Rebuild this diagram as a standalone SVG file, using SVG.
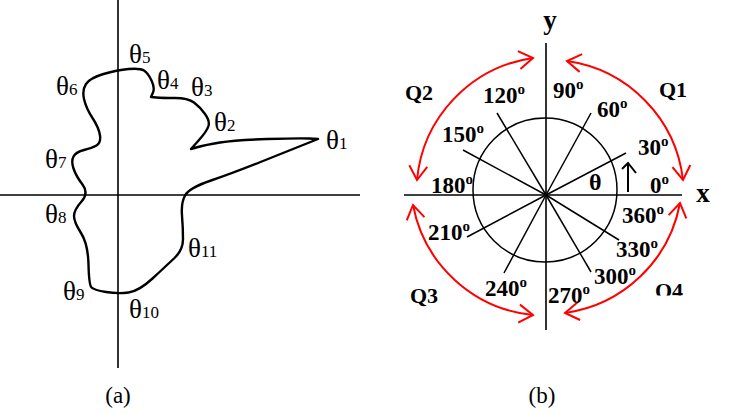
<svg xmlns="http://www.w3.org/2000/svg" width="737" height="414" viewBox="0 0 737 414">
<style>
.ax{stroke:#000;stroke-width:1.6;fill:none}
.rad{stroke:#000;stroke-width:1.5;fill:none}
.curve{stroke:#000;stroke-width:2.4;fill:none;stroke-linejoin:round}
.red{stroke:#f00;stroke-width:2;fill:none}
.th{font-family:"Liberation Serif","Times New Roman",serif;font-size:27px;fill:#000}
.sub{font-size:17px}
.deg{font-family:"Liberation Serif","Times New Roman",serif;font-size:23px;font-weight:bold;fill:#000}
.q{font-size:22px}
.sup{font-size:15px}
.cap{font-family:"Liberation Serif","Times New Roman",serif;font-size:23px;fill:#000;text-anchor:middle}
</style>
<defs>
<marker id="chev" viewBox="-16 -11 18 22" markerWidth="18" markerHeight="22" refX="0" refY="0" markerUnits="userSpaceOnUse" orient="auto-start-reverse">
<path d="M-14,-9 L0,0 L-14,9" fill="none" stroke="#f00" stroke-width="2"/>
</marker>
<clipPath id="q4clip"><rect x="640" y="270" width="60" height="25.5"/></clipPath>
</defs>
<g id="panel-a">
<g id="axes-a">
<line class="ax" x1="118" y1="0" x2="118" y2="368"/>
<line class="ax" x1="0" y1="195" x2="360" y2="195"/>
</g>
<path id="contour" class="curve" d="M144,70.5 Q140,68 128.5,69 Q117,70 103.5,74 Q90,78 86,84 Q82,90 84,99 Q86,108 92.5,118 Q99,128 100,135.5 Q101,143 96.5,145.5 Q92,148 84,150 Q76,152 73.5,156.5 Q71,161 73.5,168.5 Q76,176 82.5,184.5 Q89,193 81.5,201.5 Q74,210 74,216 Q74,222 81,233 Q88,244 88.5,264.5 Q89,285 91.5,287.5 Q94,290 106,292 Q118,294 128.5,292.5 Q139,291 152.5,278.5 Q166,266 174.5,258 Q183,250 183,239 Q183,228 182,215.5 Q181,203 185,195.5 Q189,188 211,180.5 Q233,173 260.5,162 Q288,151 303,145 L318,139 L309,138.5 Q300,138 267.5,139 Q235,140 220,142.5 Q205,145 198,147 L191,149 L199,140 Q207,131 208.5,126 Q210,121 205,114 Q200,107 194,102.5 Q188,98 175,98 Q162,98 156.5,97.5 L151,97 L153,92.5 Q155,88 151.5,80.5 Q148,73 144,70.5 Z"/>
<g id="labels-a">
<text class="th" x="326" y="149">θ<tspan class="sub">1</tspan></text>
<text class="th" x="214" y="131">θ<tspan class="sub">2</tspan></text>
<text class="th" x="191" y="96">θ<tspan class="sub">3</tspan></text>
<text class="th" x="157" y="89">θ<tspan class="sub">4</tspan></text>
<text class="th" x="129" y="63">θ<tspan class="sub">5</tspan></text>
<text class="th" x="56" y="95">θ<tspan class="sub">6</tspan></text>
<text class="th" x="45" y="168">θ<tspan class="sub">7</tspan></text>
<text class="th" x="45" y="223">θ<tspan class="sub">8</tspan></text>
<text class="th" x="63" y="300">θ<tspan class="sub">9</tspan></text>
<text class="th" x="129" y="318">θ<tspan class="sub">10</tspan></text>
<text class="th" x="188" y="257">θ<tspan class="sub">11</tspan></text>
<text class="cap" x="118" y="403">(a)</text>
</g>
</g>
<g id="panel-b">
<g id="axes-b">
<line class="ax" x1="546" y1="43" x2="546" y2="330"/>
<line class="ax" x1="404" y1="195" x2="682" y2="195"/>
<circle class="rad" cx="545" cy="190" r="72"/>
</g>
<g id="radials">
<line class="rad" x1="546" y1="195" x2="626" y2="153"/>
<line class="rad" x1="546" y1="195" x2="591" y2="113"/>
<line class="rad" x1="546" y1="195" x2="497" y2="113"/>
<line class="rad" x1="546" y1="195" x2="463" y2="150"/>
<line class="rad" x1="546" y1="195" x2="467" y2="237"/>
<line class="rad" x1="546" y1="195" x2="504" y2="273"/>
<line class="rad" x1="546" y1="195" x2="591" y2="272"/>
<line class="rad" x1="546" y1="195" x2="619" y2="240"/>
</g>
<g id="connectors">
<path class="red" d="M567,61 A136,136 0 0 1 683,180" marker-start="url(#chev)" marker-end="url(#chev)"/>
<path class="red" d="M533,58 A136,136 0 0 0 417,180" marker-start="url(#chev)" marker-end="url(#chev)"/>
<path class="red" d="M413,205 A136,136 0 0 0 533,315" marker-start="url(#chev)" marker-end="url(#chev)"/>
<path class="red" d="M680,203 A136,136 0 0 1 565,313" marker-start="url(#chev)" marker-end="url(#chev)"/>
<g id="theta-arrow" class="ax" style="stroke-width:2">
<line x1="628" y1="192" x2="628" y2="164"/>
<path d="M622,169 L628,163 L636,173"/>
</g>
</g>
<g id="labels-b">
<text class="deg" x="550" y="29" style="font-size:27px" text-anchor="middle">y</text>
<text class="deg" x="703" y="202" style="font-size:27px" text-anchor="middle">x</text>
<text class="deg q" x="405" y="100">Q2</text>
<text class="deg q" x="659" y="97">Q1</text>
<text class="deg q" x="410" y="303">Q3</text>
<text class="deg q" x="655" y="297.5" clip-path="url(#q4clip)">Q4</text>
<text class="deg" x="589" y="190" style="font-size:24px">θ</text>
<text class="deg" x="553" y="98">90<tspan class="sup" dy="-9">o</tspan></text>
<text class="deg" x="483" y="103">120<tspan class="sup" dy="-9">o</tspan></text>
<text class="deg" x="597" y="117">60<tspan class="sup" dy="-9">o</tspan></text>
<text class="deg" x="442" y="142">150<tspan class="sup" dy="-9">o</tspan></text>
<text class="deg" x="638" y="155">30<tspan class="sup" dy="-9">o</tspan></text>
<text class="deg" x="431" y="193">180<tspan class="sup" dy="-9">o</tspan></text>
<text class="deg" x="650" y="193">0<tspan class="sup" dy="-9">o</tspan></text>
<text class="deg" x="622" y="223">360<tspan class="sup" dy="-9">o</tspan></text>
<text class="deg" x="428" y="240">210<tspan class="sup" dy="-9">o</tspan></text>
<text class="deg" x="616" y="257">330<tspan class="sup" dy="-9">o</tspan></text>
<text class="deg" x="594" y="284">300<tspan class="sup" dy="-9">o</tspan></text>
<text class="deg" x="485" y="296">240<tspan class="sup" dy="-9">o</tspan></text>
<text class="deg" x="548" y="303">270<tspan class="sup" dy="-9">o</tspan></text>
<text class="cap" x="542" y="403">(b)</text>
</g>
</g>
</svg>
